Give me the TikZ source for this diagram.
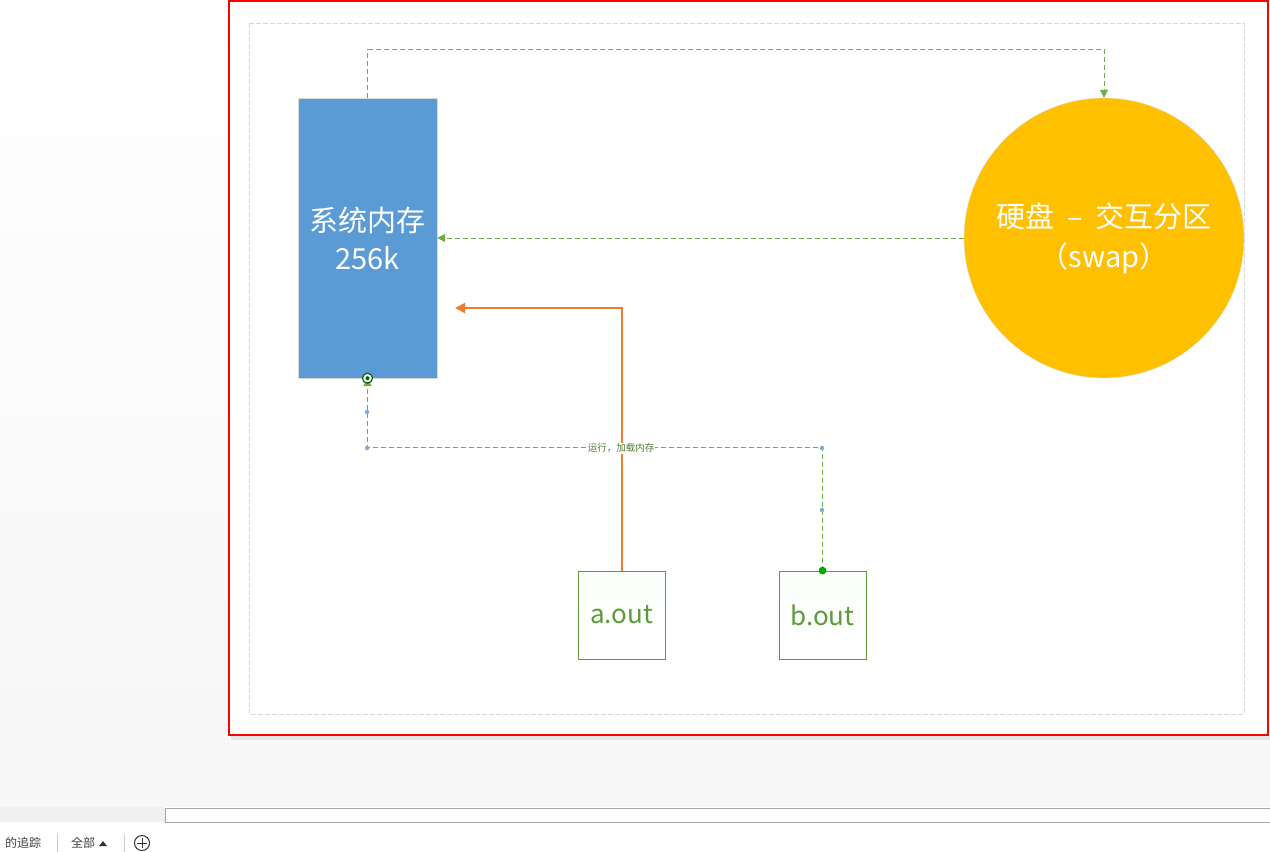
\documentclass[tikz,border=0pt]{standalone}
\usepackage{fontspec}
\setmainfont{Noto Sans CJK SC}
\usepackage{tikz}
\usetikzlibrary{arrows.meta, positioning, shapes.geometric, calc}

\definecolor{memblue}{HTML}{5B9BD5}
\definecolor{diskgold}{HTML}{FFC000}
\definecolor{linkgreen}{HTML}{70AD47}
\definecolor{boxgreen}{HTML}{5E9A3C}
\definecolor{runorange}{HTML}{ED7D31}
\definecolor{uigray}{HTML}{F7F7F7}

\begin{document}
\begin{tikzpicture}[
    x=1pt, y=-1pt,
    memblock/.style={rectangle, draw=black!15, fill=memblue, minimum width=139pt, minimum height=280pt,
        text=white, font=\fontsize{29}{38}\selectfont, align=center, inner sep=0pt},
    diskcircle/.style={circle, draw=black!12, fill=diskgold, minimum size=280pt,
        text=white, font=\fontsize{29}{40}\selectfont, align=center, inner sep=0pt},
    filebox/.style={rectangle, draw=boxgreen, line width=0.8pt, top color=black!4!green!2!white, bottom color=white,
        minimum width=87pt, minimum height=88pt, text=boxgreen, font=\fontsize{26}{30}\selectfont, inner sep=0pt},
    link/.style={draw=linkgreen, line width=1pt, dash pattern=on 5pt off 3pt, -{Triangle[length=8pt,width=8pt]}},
    runarrow/.style={draw=runorange, line width=2pt, -{Triangle[length=10pt,width=10pt]}},
    handle/.style={circle, fill=memblue!80, inner sep=0pt, minimum size=4.5pt},
    uitext/.style={text=black!75, font=\fontsize{12}{14}\selectfont, inner sep=0pt}
]
    % editor background
    \useasboundingbox (0,0) rectangle (1270,852);
    \shade[top color=white, bottom color=uigray] (0,0) rectangle (228,737);
    \fill[uigray] (0,737) rectangle (1270,807);
    \fill[black!6] (0,807) rectangle (165,822);
    \draw[black!35, line width=1pt, fill=white] (165,808) rectangle (1275,822);
    \fill[white] (0,823) rectangle (1270,852);
    \fill[black!10] (231,736) rectangle (1270,740);
    \draw[red, line width=2.4pt, fill=white] (229,1) rectangle (1268,735);
    \draw[black!15, line width=0.8pt, dash pattern=on 5pt off 2pt] (249,23) rectangle (1244,714);

    % shapes
    \node[memblock] (mem) at (367.5,238) {系统内存\\256k};
    \node[diskcircle] (disk) at (1104,238) {硬盘~~–~~交互分区\\（swap）};
    \node[filebox] (aout) at (621.5,615) {a.out};
    \node[filebox] (bout) at (822.5,615) {b.out};
    \coordinate (runend) at (455,308);

    % connectors
    \draw[link] (mem.north) -- ++(0,-48) -| (disk.north);
    \draw[link] (disk.west) -- (mem.east);
    \draw[runarrow] (aout.north) |- (runend);
    \draw[link] (bout.north) -- ++(0,-123) -| (mem.south);
    \node[fill=white, text=linkgreen!70!black, font=\fontsize{9.5}{10}\selectfont, inner sep=1pt] (runlbl) at (621,448) {运行，加载内存};

    % selection handles
    \node[handle] (h1) at (367,412) {};
    \node[handle] (h2) at (367,448) {};
    \node[handle] (h3) at (822,448) {};
    \node[handle] (h4) at (822,510) {};
    \node[circle, draw=green!40!black, fill=green!70!black, inner sep=0pt, minimum size=7pt] (h5) at (bout.north) {};
    \node[circle, draw=green!40!black, line width=1.2pt, fill=white, inner sep=0pt, minimum size=10pt] (h6) at (mem.south) {};
    \node[circle, fill=green!40!black, inner sep=0pt, minimum size=4pt] (h7) at (mem.south) {};

    % status bar
    \node[uitext, anchor=west] (track) at (5,843) {的追踪};
    \draw[black!20] (57,834) -- (57,852);
    \node[uitext, anchor=west] (all) at (71,843) {全部};
    \fill[black!80] (99,846) -- (107,846) -- (103,841) -- cycle;
    \draw[black!20] (124,834) -- (124,852);
    \node[circle, draw=black!80, line width=1pt, minimum size=15pt, inner sep=0pt] (addbtn) at (142,843) {};
    \draw[black!80, line width=1pt] (137,843) -- (147,843) (142,838) -- (142,848);
\end{tikzpicture}
\end{document}
